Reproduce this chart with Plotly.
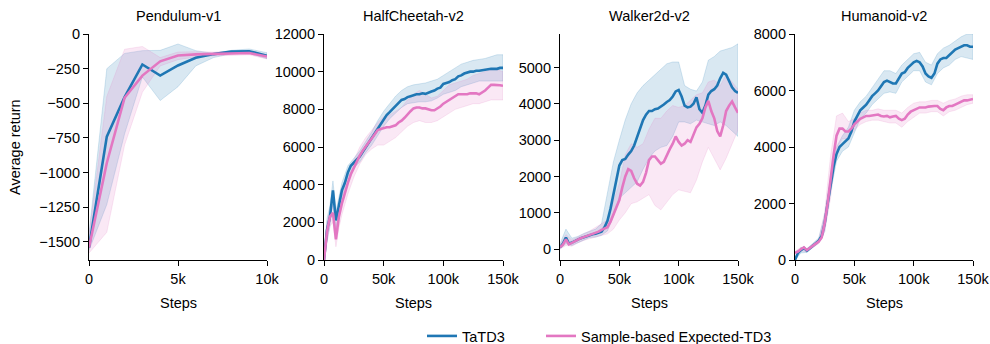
import plotly.graph_objects as go

# ---------------- data ----------------
titles = ["Pendulum-v1", "HalfCheetah-v2", "Walker2d-v2", "Humanoid-v2"]
series_names = ["TaTD3", "Sample-based Expected-TD3"]

# Pendulum-v1
pend_steps = [0, 1000, 2000, 3000, 4000, 5000, 6000, 7000, 8000, 9000, 10000]
pend_tatd3 = [-1540, -740, -455, -220, -300, -227, -172, -145, -127, -124, -157]
pend_tatd3_lo = [-1560, -1230, -720, -310, -480, -380, -230, -170, -142, -140, -178]
pend_tatd3_hi = [-1440, -250, -140, -120, -118, -72, -120, -140, -118, -108, -135]
pend_exp = [-1540, -930, -460, -300, -197, -155, -147, -142, -137, -137, -163]
pend_exp_lo = [-1580, -1430, -800, -420, -230, -185, -165, -158, -152, -150, -180]
pend_exp_hi = [-1450, -450, -110, -90, -170, -130, -128, -130, -125, -125, -148]

# MuJoCo step grids
mj_steps = list(range(0, 150001, 2500))
band_steps = list(range(0, 150001, 5000))
hc_band_steps = [0, 2500, 5000, 7500, 10000, 12500, 15000] + list(range(20000, 150001, 5000))

# HalfCheetah-v2
hc_tatd3 = [0, 1600, 2300, 3700, 2100, 2900, 3700, 4100, 4650, 5000,
            5150, 5350, 5500, 5750, 6000, 6250, 6500, 6750, 7000, 7250,
            7500, 7700, 7850, 8000, 8150, 8350, 8500, 8550, 8650, 8700,
            8750, 8800, 8800, 8850, 8820, 8900, 8950, 9000, 9100, 9150,
            9350, 9400, 9450, 9550, 9600, 9750, 9800, 9900, 9950, 10000,
            10000, 10050, 10050, 10080, 10100, 10100, 10150, 10150, 10150, 10200,
            10200]
hc_exp = [0, 1500, 2300, 2500, 1100, 2300, 3000, 3600, 4100, 4550,
          4900, 5250, 5550, 5800, 6050, 6250, 6450, 6700, 6900, 6950,
          7000, 7050, 7050, 7100, 7150, 7300, 7400, 7550, 7750, 7900,
          8050, 8100, 8100, 8050, 8050, 8000, 7950, 7950, 8050, 8150,
          8300, 8400, 8500, 8600, 8700, 8800, 8800, 8800, 8800, 8850,
          8850, 8850, 8800, 8900, 9000, 9150, 9300, 9300, 9300, 9280,
          9250]
hc_tatd3_hi = [200, 2200, 2900, 4200, 2600, 3400, 4100, 5000, 5400, 5800,
               6300, 6800, 7400, 7900, 8300, 8700, 9000, 9200, 9300, 9350,
               9400, 9500, 9600, 9800, 10000, 10200, 10400, 10500, 10600, 10650,
               10700, 10800, 10900, 10900]
hc_tatd3_lo = [0, 1000, 1800, 3100, 1600, 2400, 3300, 4400, 4900, 5200,
               5700, 6100, 6600, 7100, 7500, 7800, 8100, 8300, 8350, 8400,
               8400, 8450, 8600, 8800, 8900, 9000, 9200, 9300, 9400, 9500,
               9500, 9500, 9500, 9500]
hc_exp_hi = [100, 2000, 2700, 2900, 1700, 2800, 3500, 4600, 5300, 6000,
             6500, 6900, 7300, 7600, 7700, 7900, 8100, 8500, 8800, 9000,
             8800, 8600, 8700, 9000, 9300, 9400, 9500, 9600, 9800, 9900,
             10000, 10100, 10100, 10000]
hc_exp_lo = [0, 900, 1800, 2000, 700, 1700, 2400, 3500, 4400, 5100,
             5600, 5900, 6100, 6100, 6300, 6500, 6800, 7100, 7300, 7400,
             7300, 7300, 7400, 7600, 7800, 8000, 8100, 8200, 8300, 8300,
             8400, 8500, 8500, 8500]

# Walker2d-v2
wk_tatd3 = [50, 150, 320, 150, 180, 230, 260, 300, 330, 370,
            400, 410, 420, 440, 480, 600, 780, 1100, 1500, 1900,
            2300, 2450, 2480, 2600, 2700, 2850, 3100, 3350, 3550, 3700,
            3800, 3800, 3850, 3870, 3920, 3980, 4050, 4100, 4200, 4340,
            4380, 4200, 3950, 3900, 3920, 4000, 4180, 3850, 3750, 3950,
            4250, 4350, 4400, 4500, 4700, 4850, 4800, 4600, 4450, 4350,
            4300]
wk_exp = [50, 120, 270, 130, 170, 220, 250, 300, 330, 360,
          390, 420, 440, 480, 530, 560, 600, 750, 950, 1150,
          1350, 1700, 2000, 2200, 2150, 1950, 1800, 1750, 1850, 2100,
          2450, 2550, 2550, 2450, 2350, 2400, 2600, 2750, 2900, 3100,
          2950, 2850, 2900, 3000, 2950, 3150, 3350, 3450, 3600, 3900,
          4080, 3800, 3600, 3250, 3100, 3400, 3800, 3950, 4060, 3900,
          3750]
wk_tatd3_hi = [150, 550, 300, 350, 430, 500, 550, 700, 1500, 2400,
               3000, 3560, 4000, 4300, 4500, 4650, 4800, 4950, 5100, 5150,
               5150, 4500, 4400, 4350, 4600, 5200, 5300, 5450, 5500, 5550,
               5650]
wk_tatd3_lo = [0, 150, 100, 180, 250, 320, 330, 380, 500, 900,
               1400, 1550, 1700, 1850, 2200, 2500, 2700, 2800, 2850, 3100,
               3500, 3500, 3450, 3550, 3500, 3450, 3400, 3500, 3400, 3250,
               3100]
wk_exp_hi = [120, 400, 250, 330, 420, 500, 600, 700, 800, 1300,
             1800, 2600, 2900, 2800, 2900, 3300, 3600, 3600, 3800, 3950,
             3900, 3950, 4100, 4250, 4300, 4600, 4650, 4500, 4800, 4600,
             4400]
wk_exp_lo = [0, 100, 80, 170, 240, 290, 330, 380, 420, 550,
             800, 1000, 1250, 1300, 1400, 1500, 1200, 1080, 1300, 1500,
             1630, 1600, 1550, 1900, 2400, 2800, 2500, 2180, 2500, 2900,
             3280]

# Humanoid-v2
hu_tatd3 = [0, 250, 350, 430, 330, 420, 500, 580, 680, 850,
            1300, 2000, 2700, 3300, 3750, 4000, 4100, 4200, 4300, 4550,
            4900, 5100, 5300, 5400, 5500, 5650, 5800, 5900, 6000, 6150,
            6300, 6350, 6300, 6250, 6250, 6450, 6600, 6650, 6800, 6900,
            7000, 7050, 7000, 6850, 6600, 6500, 6450, 6600, 6950, 7100,
            7150, 7150, 7250, 7350, 7450, 7500, 7550, 7600, 7600, 7550,
            7550]
hu_exp = [250, 300, 380, 450, 350, 430, 500, 580, 650, 800,
          1300, 2000, 2900, 3700, 4400, 4650, 4650, 4550, 4550, 4650,
          4800, 4900, 5000, 5050, 5100, 5100, 5120, 5150, 5150, 5100,
          5080, 5100, 5050, 5080, 5100, 5000, 4950, 5000, 5150, 5250,
          5300, 5350, 5400, 5400, 5400, 5430, 5450, 5450, 5450, 5350,
          5300, 5400, 5450, 5450, 5500, 5550, 5600, 5650, 5650, 5680,
          5700]
hu_tatd3_hi = [100, 450, 400, 580, 780, 1600, 3000, 4000, 4400, 4700,
               5300, 5600, 5800, 6100, 6400, 6700, 6700, 6600, 6900, 7100,
               7300, 7350, 7000, 6900, 7300, 7500, 7600, 7750, 7900, 8000,
               8000]
hu_tatd3_lo = [0, 250, 270, 420, 600, 1000, 2400, 3500, 3850, 4000,
               4500, 5000, 5200, 5500, 5700, 5900, 5950, 5900, 6300, 6500,
               6700, 6700, 6300, 6200, 6600, 6800, 6900, 7100, 7200, 7150,
               7100]
hu_exp_hi = [300, 450, 400, 560, 720, 1700, 3700, 5100, 5200, 4900,
             5000, 5200, 5300, 5300, 5350, 5300, 5300, 5300, 5200, 5400,
             5550, 5600, 5600, 5650, 5650, 5550, 5650, 5700, 5800, 5850,
             5850]
hu_exp_lo = [200, 320, 300, 440, 580, 1000, 2200, 3900, 4300, 4300,
             4600, 4800, 4900, 4950, 4950, 4900, 4850, 4850, 4700, 4900,
             5050, 5200, 5200, 5250, 5250, 5100, 5250, 5300, 5400, 5500,
             5550]

pend_yticks = [-1500, -1250, -1000, -750, -500, -250, 0]
hc_yticks = [0, 2000, 4000, 6000, 8000, 10000, 12000]
wk_yticks = [0, 1000, 2000, 3000, 4000, 5000]
hu_yticks = [0, 2000, 4000, 6000, 8000]
pend_xticks = [0, 5000, 10000]
pend_xlabels = ["0", "5k", "10k"]
mj_xticks = [0, 50000, 100000, 150000]
mj_xlabels = ["0", "50k", "100k", "150k"]

# ---------------- figure ----------------
W, H = 990, 344
BLUE = "#1f77b4"
PINK = "#e377c2"
BLUE_FILL = "rgba(31,119,180,0.17)"
PINK_FILL = "rgba(227,119,194,0.17)"
BLUE_EDGE = "rgba(31,119,180,0.22)"
PINK_EDGE = "rgba(227,119,194,0.22)"
FONT = "Liberation Sans, Arial, Helvetica, sans-serif"
FS = 14.5

panels = [
    dict(ms=pend_steps, bs=pend_steps, a=pend_tatd3, alo=pend_tatd3_lo, ahi=pend_tatd3_hi,
         b=pend_exp, blo=pend_exp_lo, bhi=pend_exp_hi, xr=[0, 10000], yr=[-1630, 0],
         xt=pend_xticks, xl=pend_xlabels, yt=pend_yticks),
    dict(ms=mj_steps, bs=hc_band_steps, a=hc_tatd3, alo=hc_tatd3_lo, ahi=hc_tatd3_hi,
         b=hc_exp, blo=hc_exp_lo, bhi=hc_exp_hi, xr=[0, 150000], yr=[0, 12000],
         xt=mj_xticks, xl=mj_xlabels, yt=hc_yticks),
    dict(ms=mj_steps, bs=band_steps, a=wk_tatd3, alo=wk_tatd3_lo, ahi=wk_tatd3_hi,
         b=wk_exp, blo=wk_exp_lo, bhi=wk_exp_hi, xr=[0, 150000], yr=[-300, 5920],
         xt=mj_xticks, xl=mj_xlabels, yt=wk_yticks),
    dict(ms=mj_steps, bs=band_steps, a=hu_tatd3, alo=hu_tatd3_lo, ahi=hu_tatd3_hi,
         b=hu_exp, blo=hu_exp_lo, bhi=hu_exp_hi, xr=[0, 150000], yr=[0, 8000],
         xt=mj_xticks, xl=mj_xlabels, yt=hu_yticks),
]

x_px = [(89, 267), (324, 503), (560, 738), (795, 973)]
y_top, y_bot = 34, 260


def fmt(v):
    s = str(abs(v))
    return ("\u2212" + s) if v < 0 else s


fig = go.Figure()
layout = dict(width=W, height=H,
              margin=dict(l=0, r=0, t=0, b=0, pad=0, autoexpand=False),
              paper_bgcolor="white", plot_bgcolor="white",
              font=dict(family=FONT, size=FS, color="black"),
              annotations=[])


def band(xs, lo, hi, fill, edge, xa, ya):
    return go.Scatter(x=list(xs) + list(xs)[::-1], y=list(hi) + list(lo)[::-1],
                      fill="toself", fillcolor=fill, mode="lines",
                      line=dict(color=edge, width=0.8), hoverinfo="skip",
                      showlegend=False, xaxis=xa, yaxis=ya)


for i, p in enumerate(panels):
    n = "" if i == 0 else str(i + 1)
    xa, ya = "x" + n, "y" + n
    fig.add_trace(band(p["bs"], p["alo"], p["ahi"], BLUE_FILL, BLUE_EDGE, xa, ya))
    fig.add_trace(band(p["bs"], p["blo"], p["bhi"], PINK_FILL, PINK_EDGE, xa, ya))
    fig.add_trace(go.Scatter(x=p["ms"], y=p["a"], mode="lines", name=series_names[0],
                             line=dict(color=BLUE, width=2.6), showlegend=(i == 0),
                             legend="legend", xaxis=xa, yaxis=ya))
    fig.add_trace(go.Scatter(x=p["ms"], y=p["b"], mode="lines", name=series_names[1],
                             line=dict(color=PINK, width=2.6), showlegend=(i == 0),
                             legend="legend2", xaxis=xa, yaxis=ya))
    x0, x1 = x_px[i]
    axcommon = dict(showgrid=False, zeroline=False, showline=True, linecolor="black",
                    linewidth=1.2, ticks="outside", ticklen=5, tickwidth=1.2,
                    tickcolor="black", tickfont=dict(family=FONT, size=FS, color="black"),
                    fixedrange=True, automargin=False)
    layout["xaxis" + n] = dict(domain=[x0 / W, x1 / W], anchor=ya, range=p["xr"],
                               tickvals=p["xt"], ticktext=p["xl"], **axcommon)
    layout["yaxis" + n] = dict(domain=[(H - y_bot) / H, (H - y_top) / H], anchor=xa,
                               range=p["yr"], tickvals=p["yt"],
                               ticktext=[fmt(v) for v in p["yt"]], **axcommon)
    cx = (x0 + x1) / 2 / W
    layout["annotations"].append(dict(text=titles[i], x=cx, y=(H - 16) / H, xref="paper",
                                      yref="paper", showarrow=False, xanchor="center",
                                      yanchor="middle", font=dict(size=FS)))
    layout["annotations"].append(dict(text="Steps", x=cx, y=(H - 303) / H, xref="paper",
                                      yref="paper", showarrow=False, xanchor="center",
                                      yanchor="middle", font=dict(size=FS)))

layout["annotations"].append(dict(text="Average return", x=15 / W, y=(H - 147) / H,
                                  xref="paper", yref="paper", showarrow=False,
                                  textangle=-90, xanchor="center", yanchor="middle",
                                  font=dict(size=FS)))
leg_common = dict(orientation="h", xref="paper", yref="paper",
                  y=(H - 336) / H, xanchor="left", yanchor="middle",
                  font=dict(size=FS), bgcolor="rgba(0,0,0,0)", borderwidth=0)
layout["legend"] = dict(x=422 / W, **leg_common)
layout["legend2"] = dict(x=541 / W, **leg_common)
layout["showlegend"] = True
fig.update_layout(**layout)
fig.write_html("out.html")
